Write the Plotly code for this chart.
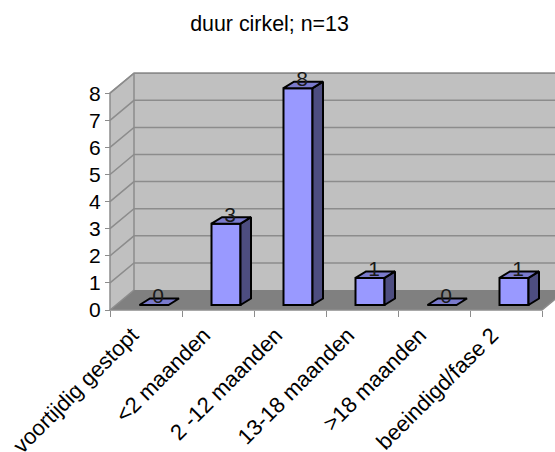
import plotly.graph_objects as go

categories = ["voortijdig gestopt", "<2 maanden", "2 -12 maanden", "13-18 maanden", ">18 maanden", "beeindigd/fase 2"]
values = [0, 3, 8, 1, 0, 1]
y_ticks = list(range(0, 9))
title = "duur cirkel; n=13"

W, H = 555, 452
X0, Y0 = 110, 310      # pixel of the front axes' origin
CAT_W, UNIT = 72, 27.1 # pixels per category / per value unit
FONT = "Liberation Sans, Arial, sans-serif"

xr = [(0 - X0) / CAT_W - 0.5, (W - X0) / CAT_W - 0.5]
yr = [(Y0 - H) / UNIT, Y0 / UNIT]
dx_wall, dy_wall = 24 / CAT_W, 20 / UNIT
dx_bar, dy_bar = 10.5 / CAT_W, 6.5 / UNIT
bar_w = 29 / CAT_W
bar_shift = 8 / CAT_W
bar_base = 5 / UNIT
n = len(categories)
left, right, ymax = -0.5, n - 0.5, y_ticks[-1]

WALL, FLOOR, GRID = "#c0c0c0", "#808080", "#8c8c8c"
FRONT, SIDE, TOP = "#9999ff", "#4d4d80", "#7a7acc"


def poly(pts):
    return "M" + " L".join(f"{a},{b}" for a, b in pts) + " Z"


shapes = [
    dict(type="path", layer="below", line=dict(width=0), fillcolor=WALL,
         path=poly([(left, 0), (left + dx_wall, dy_wall), (left + dx_wall, ymax + dy_wall), (left, ymax)])),
    dict(type="path", layer="below", line=dict(width=0), fillcolor=WALL,
         path=poly([(left + dx_wall, dy_wall), (right + dx_wall, dy_wall), (right + dx_wall, ymax + dy_wall), (left + dx_wall, ymax + dy_wall)])),
    dict(type="path", layer="below", line=dict(width=0), fillcolor=FLOOR,
         path=poly([(left, 0), (left + dx_wall, dy_wall), (right + dx_wall, dy_wall), (right, 0)])),
]
for t in y_ticks:
    if t == 0:
        continue
    shapes.append(dict(type="path", layer="below", line=dict(color=GRID, width=1.5),
                       path=f"M{left},{t} L{left + dx_wall},{t + dy_wall} L{right + dx_wall},{t + dy_wall}"))
for p in [
    f"M{left},0 L{left},{ymax} L{left + dx_wall},{ymax + dy_wall} L{right + dx_wall},{ymax + dy_wall}",
    f"M{left + dx_wall},{dy_wall} L{left + dx_wall},{ymax + dy_wall}",
    f"M{left},0 L{right},0 L{right + dx_wall},{dy_wall}",
    f"M{left},0 L{left + dx_wall},{dy_wall}",
]:
    shapes.append(dict(type="path", layer="below", line=dict(color=GRID, width=1.5), path=p))

fig = go.Figure()
xs = [i + bar_shift for i in range(n)]
fig.add_trace(go.Bar(x=xs, y=values, base=[bar_base] * n, width=bar_w,
                     marker=dict(color=FRONT, line=dict(color="black", width=2)),
                     showlegend=False, hoverinfo="skip"))

for x, v in zip(xs, values):
    l, r = x - bar_w / 2, x + bar_w / 2
    t = v + bar_base
    if v > 0:
        fig.add_trace(go.Scatter(
            x=[r, r + dx_bar, r + dx_bar, r, r], y=[bar_base, bar_base + dy_bar, t + dy_bar, t, bar_base],
            mode="lines", fill="toself", fillcolor=SIDE, line=dict(color="black", width=2),
            showlegend=False, hoverinfo="skip"))
    fig.add_trace(go.Scatter(
        x=[l, l + dx_bar, r + dx_bar, r, l], y=[t, t + dy_bar, t + dy_bar, t, t],
        mode="lines", fill="toself", fillcolor=TOP, line=dict(color="black", width=2),
        showlegend=False, hoverinfo="skip"))

fig.add_trace(go.Scatter(
    x=[x + 4 / CAT_W for x in xs], y=[v + bar_base + 7 / UNIT for v in values],
    text=[str(v) for v in values], mode="text", textposition="middle center",
    textfont=dict(family=FONT, size=21, color="#1a1a1a"), showlegend=False, hoverinfo="skip"))

fig.update_layout(
    width=W, height=H, margin=dict(l=0, r=0, t=0, b=0), autosize=False,
    paper_bgcolor="white", plot_bgcolor="white", shapes=shapes, showlegend=False,
    title=dict(text=title, x=269.5 / W, xanchor="center", y=1 - 24 / H, yanchor="middle",
               font=dict(family=FONT, size=21.4, color="black")),
    xaxis=dict(range=xr, domain=[0, 1], anchor="free", position=(H - Y0) / H, showgrid=False, zeroline=False,
               automargin=False,
               showline=False, tickmode="array", tickvals=list(range(n)), ticktext=categories, tickangle=-45,
               ticks="", ticklabelshift=-14, ticklabelstandoff=7,
               tickfont=dict(family=FONT, size=22, color="black"),
               minor=dict(tickmode="array", tickvals=[i - 0.5 for i in range(n + 1)], ticks="outside",
                          ticklen=6, tickcolor=GRID, tickwidth=1, showgrid=False)),
    yaxis=dict(range=yr, domain=[0, 1], anchor="free", position=X0 / W, showgrid=False, zeroline=False,
               automargin=False,
               showline=False, tickmode="array", tickvals=y_ticks, ticks="outside", ticklen=5, tickcolor=GRID,
               tickfont=dict(family=FONT, size=21, color="black")),
)
fig.write_html("out.html", post_script="document.body.style.margin='0';", config={"displayModeBar": False})
